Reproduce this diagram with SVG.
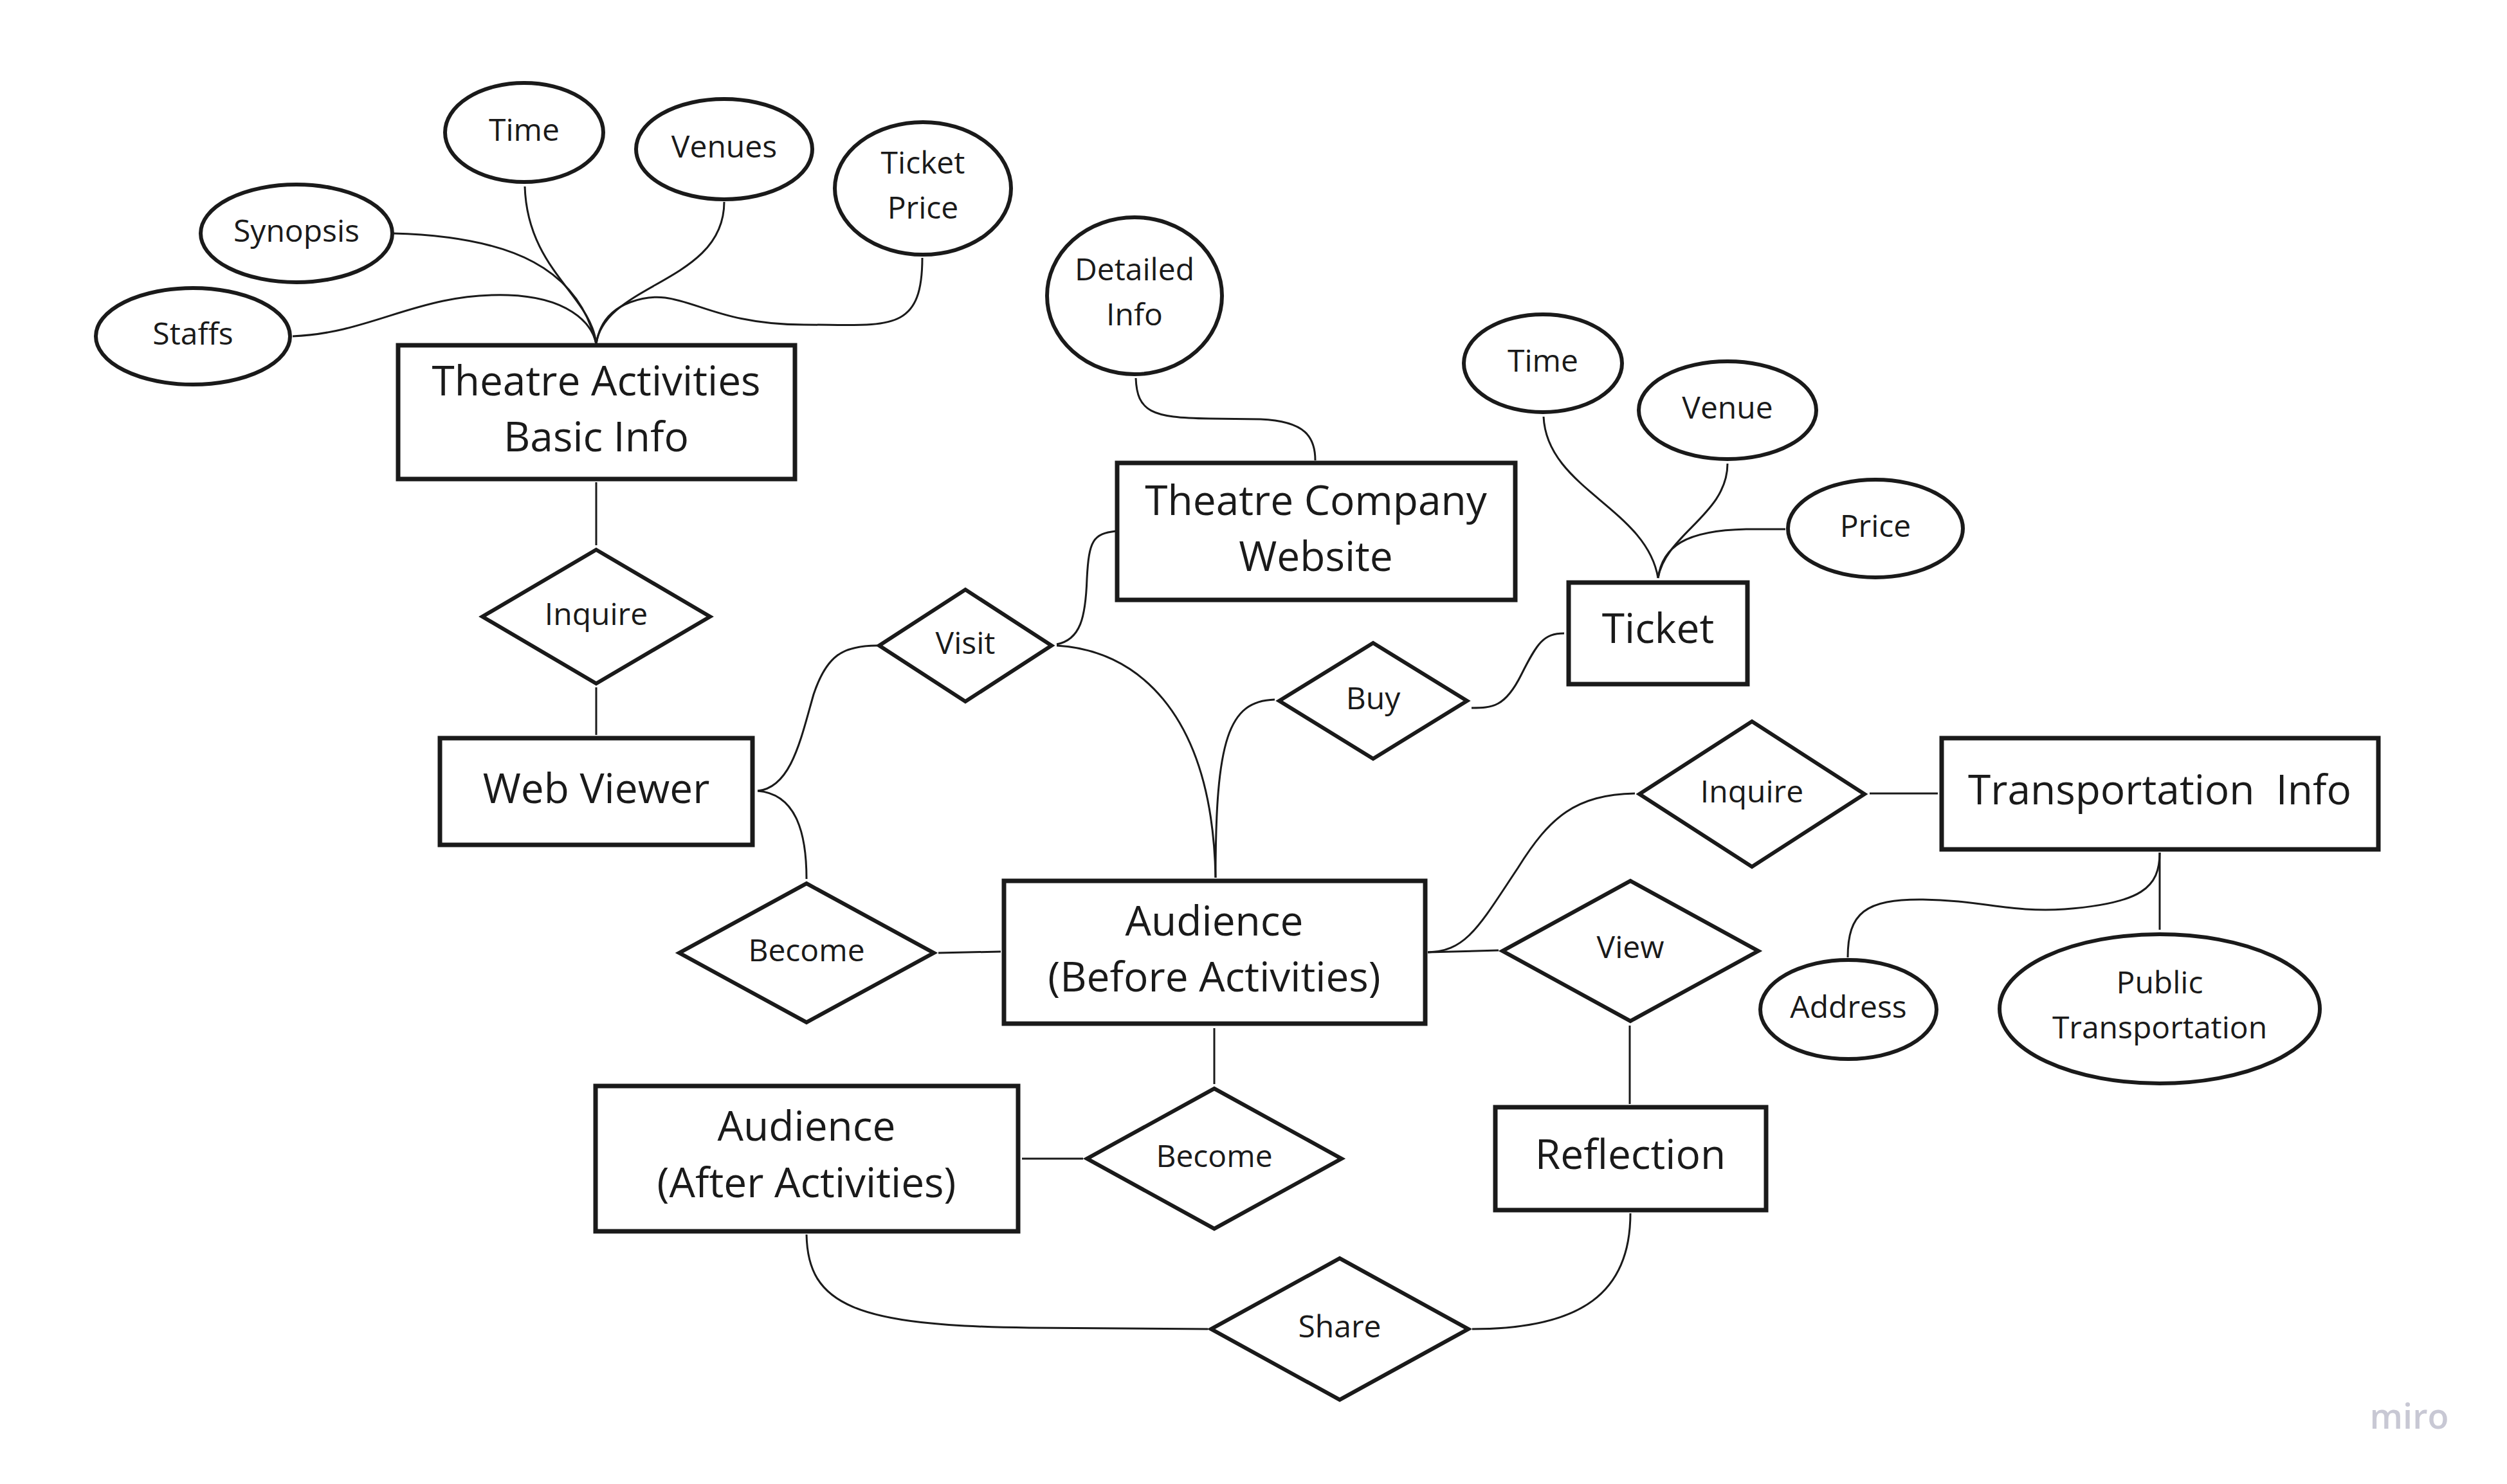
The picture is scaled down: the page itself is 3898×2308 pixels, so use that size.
<svg xmlns="http://www.w3.org/2000/svg" width="3898" height="2308" viewBox="0 0 3898 2308">
<style>
.ent{fill:#fff;stroke:#1a1a1a;stroke-width:7}
.rel{fill:#fff;stroke:#1a1a1a;stroke-width:6;stroke-linejoin:miter}
.att{fill:#fff;stroke:#1a1a1a;stroke-width:6}
.con path,.con line{fill:none;stroke:#1a1a1a;stroke-width:3}
text{font-family:"Open Sans","Noto Sans","DejaVu Sans",sans-serif;fill:#1a1a1a;text-anchor:middle;dominant-baseline:central}
.t1{font-size:64px}
.t2{font-size:48px}
</style>
<rect width="3898" height="2308" fill="#fff"/>
<g class="con" id="connectors">
<path d="M455 523 C580 518 650 455 790 459 C880 462 920 500 927 535"/>
<path d="M612 363 C800 368 900 420 927 535"/>
<path d="M816 290 C820 420 920 460 927 535"/>
<path d="M1126 314 C1126 440 940 440 927 535"/>
<path d="M1434 401 C1434 520 1380 505 1250 505 C1090 505 1060 440 980 470 C940 485 930 515 927 535"/>
<line x1="927" y1="750" x2="927" y2="848"/>
<line x1="927" y1="1069" x2="927" y2="1143"/>
<path d="M1766 588 C1768 640 1790 650 1880 651 L1960 652 C2030 655 2045 680 2045 716"/>
<path d="M1643 1002 C1680 995 1688 960 1690 900 C1693 840 1700 830 1735 826"/>
<path d="M1643 1004 C1760 1010 1885 1100 1890 1365"/>
<path d="M1178 1230 C1230 1225 1245 1150 1265 1080 C1285 1020 1310 1004 1364 1004"/>
<path d="M1178 1230 C1240 1235 1254 1300 1254 1367"/>
<line x1="1459" y1="1482" x2="1556" y2="1480"/>
<path d="M1982 1088 C1910 1090 1890 1150 1890 1365"/>
<path d="M2432 985 C2400 985 2390 1000 2365 1050 C2340 1100 2320 1101 2288 1101"/>
<path d="M2400 648 C2405 760 2560 790 2578 899"/>
<path d="M2686 721 C2686 800 2590 830 2578 899"/>
<path d="M2776 823 L2715 823 C2620 825 2585 850 2578 899"/>
<path d="M2220 1481 C2280 1480 2300 1440 2360 1350 C2410 1270 2450 1236 2542 1234"/>
<line x1="2220" y1="1481" x2="2330" y2="1478"/>
<line x1="2907" y1="1234" x2="3013" y2="1234"/>
<line x1="3358" y1="1326" x2="3358" y2="1446"/>
<path d="M2873 1489 C2873 1420 2900 1398 2990 1399 C3080 1400 3130 1420 3210 1414 C3330 1405 3358 1380 3358 1326"/>
<line x1="1888" y1="1599" x2="1888" y2="1686"/>
<line x1="1589" y1="1802" x2="1684" y2="1802"/>
<line x1="2534" y1="1595" x2="2534" y2="1717"/>
<path d="M1254 1920 C1256 2030 1330 2062 1600 2065 L1878 2067"/>
<path d="M2535 1887 C2535 2010 2460 2067 2289 2067"/>
</g>
<g id="n-theatre-activities"><rect class="ent" x="619" y="537" width="617" height="208"/><text class="t1" x="927" y="590">Theatre Activities</text><text class="t1" x="927" y="677">Basic Info</text></g>
<g id="a-time1"><ellipse class="att" cx="815" cy="206" rx="123" ry="77"/><text class="t2" x="815" y="200">Time</text></g>
<g id="a-venues"><ellipse class="att" cx="1126" cy="232" rx="137" ry="78"/><text class="t2" x="1126" y="226">Venues</text></g>
<g id="a-ticketprice"><ellipse class="att" cx="1435" cy="293" rx="137" ry="103"/><text class="t2" x="1435" y="251">Ticket</text><text class="t2" x="1435" y="321">Price</text></g>
<g id="a-synopsis"><ellipse class="att" cx="461" cy="363" rx="149" ry="76"/><text class="t2" x="461" y="357">Synopsis</text></g>
<g id="a-staffs"><ellipse class="att" cx="300" cy="523" rx="151" ry="75"/><text class="t2" x="300" y="517">Staffs</text></g>
<g id="r-inquire1"><polygon class="rel" points="927,855 1104,959 927,1063 750,959"/><text class="t2" x="927" y="953">Inquire</text></g>
<g id="n-web-viewer"><rect class="ent" x="684" y="1148" width="486" height="166"/><text class="t1" x="927" y="1224">Web Viewer</text></g>
<g id="r-visit"><polygon class="rel" points="1501,917 1635,1004 1501,1091 1367,1004"/><text class="t2" x="1501" y="998">Visit</text></g>
<g id="n-tcw"><rect class="ent" x="1737" y="720" width="619" height="213"/><text class="t1" x="2046" y="776">Theatre Company</text><text class="t1" x="2046" y="863">Website</text></g>
<g id="a-detailed"><ellipse class="att" cx="1764" cy="460" rx="136" ry="122"/><text class="t2" x="1764" y="417">Detailed</text><text class="t2" x="1764" y="487">Info</text></g>
<g id="n-ticket"><rect class="ent" x="2439" y="906" width="278" height="158"/><text class="t1" x="2578" y="975">Ticket</text></g>
<g id="a-time2"><ellipse class="att" cx="2399" cy="565" rx="123" ry="76"/><text class="t2" x="2399" y="559">Time</text></g>
<g id="a-venue"><ellipse class="att" cx="2686" cy="638" rx="138" ry="76"/><text class="t2" x="2686" y="632">Venue</text></g>
<g id="a-price"><ellipse class="att" cx="2916" cy="822" rx="136" ry="76"/><text class="t2" x="2916" y="816">Price</text></g>
<g id="r-buy"><polygon class="rel" points="2135,1000 2281,1090 2135,1180 1989,1090"/><text class="t2" x="2135" y="1084">Buy</text></g>
<g id="r-become1"><polygon class="rel" points="1254,1374 1452,1482 1254,1590 1056,1482"/><text class="t2" x="1254" y="1476">Become</text></g>
<g id="n-aud-before"><rect class="ent" x="1561" y="1370" width="655" height="222"/><text class="t1" x="1888" y="1430">Audience</text><text class="t1" x="1888" y="1517">(Before Activities)</text></g>
<g id="r-inquire2"><polygon class="rel" points="2724,1122 2899,1235 2724,1348 2549,1235"/><text class="t2" x="2724" y="1229">Inquire</text></g>
<g id="n-transport"><rect class="ent" x="3019" y="1148" width="679" height="173"/><text class="t1" x="3358" y="1226" xml:space="preserve">Transportation  Info</text></g>
<g id="a-address"><ellipse class="att" cx="2874" cy="1570" rx="137" ry="77"/><text class="t2" x="2874" y="1564">Address</text></g>
<g id="a-public"><ellipse class="att" cx="3358" cy="1569" rx="249" ry="116"/><text class="t2" x="3358" y="1526">Public</text><text class="t2" x="3358" y="1596">Transportation</text></g>
<g id="r-view"><polygon class="rel" points="2535,1370 2734,1479 2535,1588 2336,1479"/><text class="t2" x="2535" y="1471">View</text></g>
<g id="r-become2"><polygon class="rel" points="1888,1693 2086,1802 1888,1911 1690,1802"/><text class="t2" x="1888" y="1796">Become</text></g>
<g id="n-aud-after"><rect class="ent" x="926" y="1689" width="657" height="226"/><text class="t1" x="1254" y="1749">Audience</text><text class="t1" x="1254" y="1837">(After Activities)</text></g>
<g id="n-reflection"><rect class="ent" x="2325" y="1722" width="421" height="160"/><text class="t1" x="2535" y="1793">Reflection</text></g>
<g id="r-share"><polygon class="rel" points="2083,1957 2283,2067 2083,2177 1883,2067"/><text class="t2" x="2083" y="2061">Share</text></g>
<text x="3746" y="2201" style="font-size:54px;fill:#c8c8d4;font-weight:600">miro</text>
</svg>
